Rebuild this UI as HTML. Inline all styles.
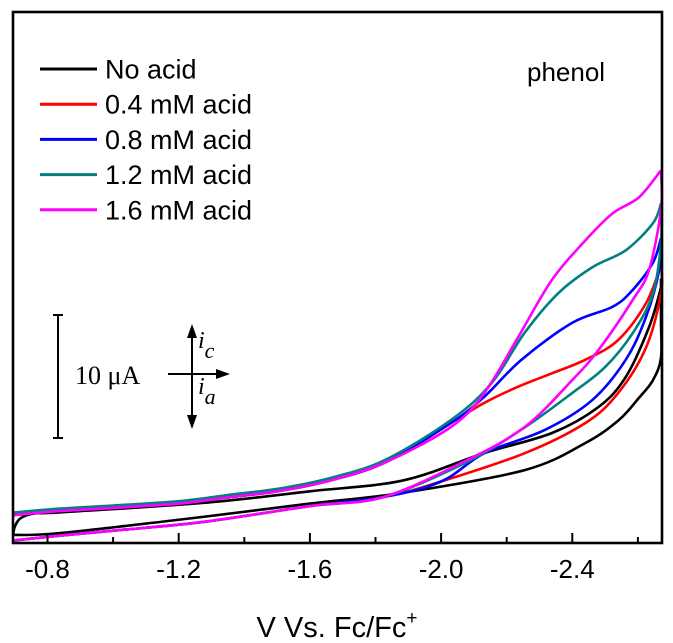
<!DOCTYPE html>
<html><head><meta charset="utf-8"><style>
html,body{margin:0;padding:0;background:#fff;}
svg{display:block;font-family:"Liberation Sans",Arial,sans-serif;}
</style></head><body>
<svg id="chart" width="673" height="643" viewBox="0 0 673 643" xmlns="http://www.w3.org/2000/svg">
<g id="curves"></g>
<rect x="13" y="12" width="649" height="531" fill="none" stroke="#000" stroke-width="2.6"/>
<g id="ticks"></g>
<text x="337" y="637" font-size="29" text-anchor="middle">V Vs. Fc/Fc<tspan dy="-13" font-size="19">+</tspan></text>
<text x="527" y="81" font-size="26">phenol</text>
<g id="legend"></g>
<g>
<line x1="58" y1="315" x2="58" y2="438" stroke="#000" stroke-width="2"/>
<line x1="53" y1="315" x2="63" y2="315" stroke="#000" stroke-width="2"/>
<line x1="53" y1="438" x2="63" y2="438" stroke="#000" stroke-width="2"/>
<text x="75" y="384" font-size="26" font-family="Liberation Serif,serif">10 μA</text>
</g>
<g>
<line x1="192" y1="335" x2="192" y2="418" stroke="#000" stroke-width="2"/>
<polygon points="192,324 187,338 197,338" fill="#000"/>
<polygon points="192,429 187,415 197,415" fill="#000"/>
<line x1="168" y1="374" x2="220" y2="374" stroke="#000" stroke-width="2"/>
<polygon points="230,374 216,369 216,379" fill="#000"/>
<text x="198" y="348" font-size="24" font-style="italic" font-family="Liberation Serif,serif">i<tspan dy="10" font-size="22">c</tspan></text>
<text x="198" y="394" font-size="24" font-style="italic" font-family="Liberation Serif,serif">i<tspan dy="10" font-size="22">a</tspan></text>
</g>
</svg>
<script>
const xTicksMajor = [-0.8, -1.2, -1.6, -2.0, -2.4];
const xTicksMinor = [-1.0, -1.4, -1.8, -2.2, -2.6];
const tickLabels = ["-0.8", "-1.2", "-1.6", "-2.0", "-2.4"];
const seriesNames = ["No acid", "0.4 mM acid", "0.8 mM acid", "1.2 mM acid", "1.6 mM acid"];
const seriesColors = ["#000000", "#ff0000", "#0000ff", "#008080", "#ff00ff"];

const leftFwdV = [-0.695, -0.84, -1.0, -1.2, -1.35, -1.5, -1.65, -1.825];
const leftFwdI = [2.27, 2.6, 2.85, 3.2, 3.7, 4.2, 5.0, 6.5];
const leftRetV = [-1.825, -1.6, -1.271, -1.0, -0.84, -0.695];
const leftRetI = [3.74, 3.0, 1.7, 1.0, 0.6, 0.2];

const blackFwdV = [-0.695, -0.70, -0.717, -0.76, -0.84, -1.271, -1.6, -1.886, -2.132, -2.338, -2.48, -2.563, -2.634, -2.677, -2.69];
const blackFwdI = [0.6, 1.3, 2.0, 2.4, 2.5, 3.25, 4.2, 5.1, 7.32, 8.94, 11.06, 13.5, 17.56, 20.8, 21.5];
const blackRetV = [-2.69, -2.684, -2.67, -2.645, -2.603, -2.542, -2.44, -2.255, -1.886, -1.6, -1.271, -0.84, -0.695];
const blackRetI = [21.5, 18, 15, 13.2, 11.8, 10, 8.13, 5.93, 4.1, 3.2, 2.11, 0.81, 0.65];

const redFwdV = [-2.03, -2.132, -2.234, -2.338, -2.44, -2.54, -2.625, -2.69];
const redFwdI = [9.76, 11.4, 12.7, 13.8, 14.9, 16.5, 19.5, 22.6];
const redRetV = [-2.69, -2.677, -2.625, -2.54, -2.44, -2.255, -2.0];
const redRetI = [22.6, 20.3, 15.9, 12.2, 9.76, 7.3, 5.0];

const blueFwdV = [-2.03, -2.132, -2.245, -2.40, -2.523, -2.585, -2.646, -2.69];
const blueFwdI = [9.76, 11.9, 14.9, 17.9, 19.2, 20.6, 22.8, 24.8];
const blueRetV = [-2.69, -2.665, -2.625, -2.563, -2.46, -2.317, -2.132, -2.0];
const blueRetI = [24.8, 22.2, 18.4, 14.9, 11.6, 9.2, 7.3, 5.0];

const tealFwdV = [-2.03, -2.154, -2.255, -2.357, -2.46, -2.563, -2.646, -2.69];
const tealFwdI = [10, 13, 17.1, 20.3, 22.4, 23.8, 26, 27.6];
const tealRetV = [-2.69, -2.677, -2.646, -2.585, -2.50, -2.40, -2.255, -2.08];
const tealRetI = [27.6, 24.4, 20.3, 17.1, 14.3, 12.2, 9.4, 6.6];

const magFwdV = [-2.03, -2.132, -2.234, -2.338, -2.44, -2.523, -2.603, -2.69];
const magFwdI = [9.43, 12.2, 16.7, 21.4, 24.6, 26.8, 28.1, 30.3];
const magRetV = [-2.69, -2.677, -2.634, -2.585, -2.48, -2.40, -2.255, -2.08];
const magRetI = [30.3, 27.1, 22.2, 19.8, 15.7, 13.25, 9.43, 6.75];

function xScale(v) { return 47.5 + (-0.8 - v) * 328; }
function yScale(i) { return 543 - i * 12.3; }

function smooth(pts) {
  let d = "M" + pts[0][0].toFixed(1) + "," + pts[0][1].toFixed(1);
  for (let k = 0; k < pts.length - 1; k++) {
    const p0 = pts[k - 1] || pts[k], p1 = pts[k], p2 = pts[k + 1], p3 = pts[k + 2] || p2;
    const c1x = p1[0] + (p2[0] - p0[0]) / 6, c1y = p1[1] + (p2[1] - p0[1]) / 6;
    const c2x = p2[0] - (p3[0] - p1[0]) / 6, c2y = p2[1] - (p3[1] - p1[1]) / 6;
    d += " C" + c1x.toFixed(1) + "," + c1y.toFixed(1) + " " + c2x.toFixed(1) + "," + c2y.toFixed(1) + " " + p2[0].toFixed(1) + "," + p2[1].toFixed(1);
  }
  return d;
}
function toPts(V, I, off) { return V.map((v, k) => [Math.min(xScale(v), 661), yScale(I[k] + (off || 0))]); }

const NS = "http://www.w3.org/2000/svg";
const curves = document.getElementById("curves");
const seriesData = [
  { f: toPts(blackFwdV, blackFwdI), r: toPts(blackRetV, blackRetI), name: "curve-no-acid" },
  { f: toPts(leftFwdV, leftFwdI).concat(toPts(redFwdV, redFwdI)), r: toPts(redRetV, redRetI).concat(toPts(leftRetV, leftRetI)), name: "curve-0-4-mm" },
  { f: toPts(leftFwdV, leftFwdI).concat(toPts(blueFwdV, blueFwdI)), r: toPts(blueRetV, blueRetI).concat(toPts(leftRetV, leftRetI)), name: "curve-0-8-mm" },
  { f: toPts(leftFwdV, leftFwdI, 0.2).concat(toPts(tealFwdV, tealFwdI)), r: toPts(tealRetV, tealRetI).concat(toPts(leftRetV, leftRetI)), name: "curve-1-2-mm" },
  { f: toPts(leftFwdV, leftFwdI).concat(toPts(magFwdV, magFwdI)), r: toPts(magRetV, magRetI).concat(toPts(leftRetV, leftRetI)), name: "curve-1-6-mm" }
];
seriesData.forEach((s, k) => {
  const p = document.createElementNS(NS, "path");
  p.setAttribute("d", smooth(s.f) + " " + smooth(s.r));
  p.setAttribute("fill", "none");
  p.setAttribute("stroke", seriesColors[k]);
  p.setAttribute("stroke-width", "2.6");
  p.setAttribute("stroke-linejoin", "round");
  
  
  curves.appendChild(p);
});

const ticks = document.getElementById("ticks");
xTicksMajor.forEach((v, k) => {
  const l = document.createElementNS(NS, "line");
  l.setAttribute("x1", xScale(v)); l.setAttribute("x2", xScale(v));
  l.setAttribute("y1", 543); l.setAttribute("y2", 533);
  l.setAttribute("stroke", "#000"); l.setAttribute("stroke-width", "2");
  
  
  ticks.appendChild(l);
  const t = document.createElementNS(NS, "text");
  t.setAttribute("x", xScale(v)); t.setAttribute("y", 578);
  t.setAttribute("font-size", "26"); t.setAttribute("text-anchor", "middle");
  t.textContent = tickLabels[k];
  
  
  ticks.appendChild(t);
});
xTicksMinor.forEach(v => {
  const l = document.createElementNS(NS, "line");
  l.setAttribute("x1", xScale(v)); l.setAttribute("x2", xScale(v));
  l.setAttribute("y1", 543); l.setAttribute("y2", 537);
  l.setAttribute("stroke", "#000"); l.setAttribute("stroke-width", "2");
  
  
  ticks.appendChild(l);
});

const legend = document.getElementById("legend");
seriesNames.forEach((n, k) => {
  const y = 69 + k * 35.2;
  const l = document.createElementNS(NS, "line");
  l.setAttribute("x1", 40); l.setAttribute("x2", 97);
  l.setAttribute("y1", y); l.setAttribute("y2", y);
  l.setAttribute("stroke", seriesColors[k]); l.setAttribute("stroke-width", "3");
  
  
  legend.appendChild(l);
  const t = document.createElementNS(NS, "text");
  t.setAttribute("x", 105); t.setAttribute("y", y + 9.5);
  t.setAttribute("font-size", "27");
  t.textContent = n;
  
  
  legend.appendChild(t);
});
</script>
</body></html>
